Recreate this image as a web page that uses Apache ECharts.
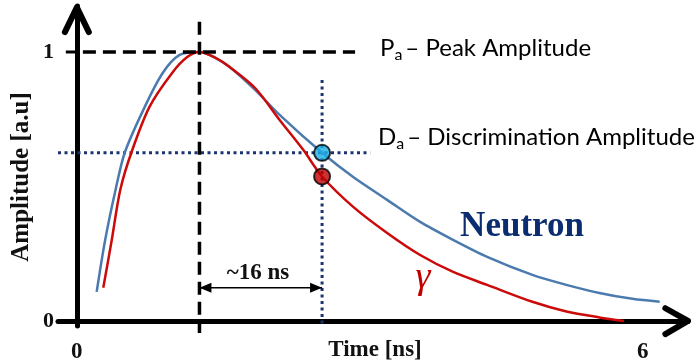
<!DOCTYPE html>
<html>
<head>
<meta charset="utf-8">
<script src="https://cdn.jsdelivr.net/npm/echarts@6/dist/echarts.min.js"></script>
<style>
  html, body { margin: 0; padding: 0; background: #fff; }
  #chart { width: 700px; height: 362px; }
</style>
</head>
<body>
<div id="chart"></div>
<script>
// Pulse shapes (time in ns-scale units, amplitude normalised to the peak)
const neutronT = [0.21, 0.30, 0.41, 0.51, 0.72, 0.91, 1.09, 1.30, 1.46, 1.62, 1.89, 2.15, 2.60, 2.93, 3.29, 3.64, 3.99, 4.35, 4.83, 5.19, 5.54, 5.89, 6.18];
const neutronA = [0.108, 0.301, 0.487, 0.628, 0.796, 0.922, 0.989, 1.000, 0.980, 0.944, 0.859, 0.766, 0.625, 0.535, 0.450, 0.368, 0.301, 0.238, 0.171, 0.134, 0.104, 0.082, 0.071];
const gammaT = [0.28, 0.37, 0.46, 0.58, 0.77, 1.01, 1.17, 1.30, 1.46, 1.62, 1.89, 2.15, 2.40, 2.60, 2.93, 3.29, 3.64, 3.99, 4.35, 4.83, 5.19, 5.54, 5.80];
const gammaA = [0.123, 0.301, 0.487, 0.628, 0.796, 0.922, 0.981, 1.000, 0.980, 0.944, 0.866, 0.747, 0.636, 0.537, 0.424, 0.327, 0.245, 0.182, 0.134, 0.071, 0.035, 0.013, 0.000];

// Reference levels
const peakTime = 1.30;
const peakAmp = 1.0;
const discTime = 2.60;
const discAmp = neutronA[neutronT.indexOf(discTime)];
const gammaAtDisc = gammaA[gammaT.indexOf(discTime)];
const spanLevel = 0.123;

// Axis labels
const xTickLabels = [0, 6];
const yTickLabels = [0, 1];

// Axis extents
const xMin = -0.2, xMax = 6.48;
const yMin = -0.019, yMax = 1.171;

const zip = (a, b) => a.map((v, i) => [v, b[i]]);

const serif = '"Liberation Serif", "Times New Roman", serif';
const sans = 'Lato, "Open Sans", sans-serif';
const navyDot = '#1b3372';

const chart = echarts.init(document.getElementById('chart'));

const richLegendText = {
  m: { fontFamily: sans, fontSize: 24, color: '#222', lineHeight: 30, verticalAlign: 'middle' },
  s: { fontFamily: sans, fontSize: 16, color: '#222', lineHeight: 30, verticalAlign: 'middle', padding: [13, 3, 0, 0] }
};

chart.setOption({
  animation: false,
  backgroundColor: '#ffffff',
  grid: { left: 58, right: 12, top: 6, bottom: 36, outerBoundsMode: 'none' },
  xAxis: {
    type: 'value', min: xMin, max: xMax,
    splitLine: { show: false },
    axisLine: { onZero: true, lineStyle: { color: '#000', width: 5 } },
    axisTick: { show: false },
    axisLabel: {
      customValues: xTickLabels, margin: 15,
      fontFamily: serif, fontWeight: 'bold', fontSize: 23, color: '#111'
    }
  },
  yAxis: {
    type: 'value', min: yMin, max: yMax,
    splitLine: { show: false },
    axisLine: { onZero: true, lineStyle: { color: '#000', width: 5 } },
    axisTick: { show: false },
    axisLabel: {
      customValues: yTickLabels, margin: 4,
      fontFamily: serif, fontWeight: 'bold', fontSize: 22, color: '#111'
    }
  },
  graphic: [
    {
      type: 'text', x: 22, y: 177, rotation: Math.PI / 2,
      style: {
        text: 'Amplitude [a.u]', font: 'bold 25px ' + serif, fill: '#111',
        textAlign: 'center', textVerticalAlign: 'middle'
      }
    },
    {
      type: 'text', x: 375, y: 350,
      style: {
        text: 'Time [ns]', font: 'bold 23px ' + serif, fill: '#111',
        textAlign: 'center', textVerticalAlign: 'middle'
      }
    },
    {
      type: 'text', x: 380, y: 48,
      style: { text: '{m|P}{s|a}{m|– Peak Amplitude}', textVerticalAlign: 'middle', rich: richLegendText }
    },
    {
      type: 'text', x: 378, y: 137,
      style: { text: '{m|D}{s|a}{m|– Discrimination Amplitude}', textVerticalAlign: 'middle', rich: richLegendText }
    },
    {
      type: 'text', x: 522, y: 227,
      style: {
        text: 'Neutron', font: 'bold 35px ' + serif, fill: '#0b2c6e',
        textAlign: 'center', textVerticalAlign: 'middle'
      }
    },
    {
      type: 'text', x: 423, y: 278,
      style: {
        text: 'γ', font: 'italic 38px ' + serif, fill: '#c00000',
        textAlign: 'center', textVerticalAlign: 'middle'
      }
    },
    {
      type: 'text', x: 258, y: 273,
      style: {
        text: '~16 ns', font: 'bold 23px ' + serif, fill: '#111',
        textAlign: 'center', textVerticalAlign: 'middle'
      }
    }
  ],
  series: [
    // discrimination level and time (dotted)
    {
      type: 'line', silent: true, showSymbol: false, clip: false, z: 2,
      data: [[xMin, discAmp], [3.11, discAmp]],
      lineStyle: { color: navyDot, width: 3, type: [3, 3.5] }
    },
    {
      type: 'line', silent: true, showSymbol: false, clip: false, z: 2,
      data: [[discTime, 0.896], [discTime, yMin]],
      lineStyle: { color: navyDot, width: 3, type: [3, 3.5] }
    },
    // pulses
    {
      name: 'Neutron', type: 'line', smooth: 0.3, showSymbol: false, z: 3,
      data: zip(neutronT, neutronA),
      lineStyle: { color: '#4b7bae', width: 2.5 }
    },
    {
      name: 'γ', type: 'line', smooth: 0.3, showSymbol: false, z: 4,
      data: zip(gammaT, gammaA),
      lineStyle: { color: '#cc0a0a', width: 2.5 }
    },
    // peak level and peak time (dashed)
    {
      type: 'line', silent: true, showSymbol: false, clip: false, z: 5,
      data: [[0.064, peakAmp], [2.95, peakAmp]],
      lineStyle: { color: '#000', width: 3.5, type: [13, 7] }
    },
    {
      type: 'line', silent: true, showSymbol: false, clip: false, z: 5,
      data: [[peakTime, 1.112], [peakTime, -0.045]],
      lineStyle: { color: '#000', width: 3.5, type: [13, 7] }
    },
    // tick at amplitude 1 on the vertical axis
    {
      type: 'line', silent: true, showSymbol: false, clip: false, z: 5,
      data: [[-0.117, peakAmp], [0, peakAmp]],
      lineStyle: { color: '#000', width: 3 }
    },
    // time span between peak and discrimination point
    {
      type: 'line', silent: true, clip: false, z: 6,
      symbol: 'triangle', symbolSize: [10, 12],
      data: [
        { value: [peakTime, spanLevel], symbolRotate: 90, symbolOffset: [6, 0] },
        { value: [discTime, spanLevel], symbolRotate: -90, symbolOffset: [-6, 0] }
      ],
      itemStyle: { color: '#000' },
      lineStyle: { color: '#000', width: 1.5 }
    },
    // discrimination sample points
    {
      type: 'scatter', z: 7, symbolSize: 16,
      data: [[discTime, discAmp]],
      itemStyle: { color: '#1aaee8', borderColor: '#000', borderWidth: 2 }
    },
    {
      type: 'scatter', z: 7, symbolSize: 16,
      data: [[discTime, gammaAtDisc]],
      itemStyle: { color: '#c00000', borderColor: '#000', borderWidth: 2 }
    },
    // open arrowheads at the axis ends
    {
      type: 'line', silent: true, showSymbol: false, clip: false, z: 8,
      data: [[6.24, 0.047], [xMax, 0], [6.24, -0.049]],
      lineStyle: { color: '#000', width: 6, cap: 'round', join: 'round' }
    },
    {
      type: 'line', silent: true, showSymbol: false, clip: false, z: 8,
      data: [[-0.127, 1.074], [0, 1.166], [0.127, 1.074]],
      lineStyle: { color: '#000', width: 6, cap: 'round', join: 'round' }
    }
  ]
});
</script>
</body>
</html>
